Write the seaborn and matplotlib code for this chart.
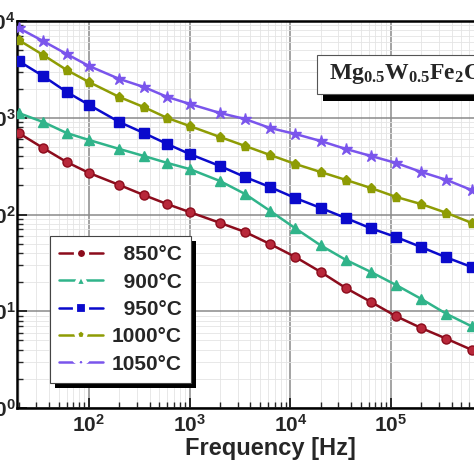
import numpy as np
import pandas as pd
import seaborn as sns
import matplotlib.pyplot as plt
from matplotlib.lines import Line2D
from matplotlib.patches import Rectangle
from matplotlib.ticker import LogLocator, FuncFormatter, NullFormatter

# values
freq = [20, 35, 60, 100, 200, 350, 600, 1000, 2000, 3550, 6300, 11200,
        20000, 35500, 63000, 112000, 200000, 355000, 630000]
eps_850 = [696, 487, 349, 269, 202, 159, 128, 106, 82, 66, 49.5, 36.4,
           25.5, 17.4, 12.5, 8.9, 6.7, 5.2, 4.0]
eps_900 = [1120, 904, 696, 589, 476, 403, 341, 295, 222, 163, 109, 72,
           48, 34, 25.5, 18.7, 13.4, 9.4, 7.0]
eps_950 = [3860, 2700, 1850, 1360, 904, 696, 535, 422, 317, 244, 192, 148,
           117, 92, 72, 58.5, 46, 36, 28.7]
eps_1000 = [6370, 4460, 3120, 2340, 1640, 1290, 994, 822, 633, 511, 412, 333,
            275, 228, 188, 152, 128, 104, 82]
eps_1050 = [8470, 6210, 4560, 3430, 2520, 2080, 1640, 1390, 1120, 970, 783, 680,
            575, 476, 403, 341, 275, 228, 179]
temps = ['850°C', '900°C', '950°C', '1000°C', '1050°C']
series = [eps_850, eps_900, eps_950, eps_1000, eps_1050]
colors = ['#8c0c1c', '#30b48a', '#0a0acc', '#8e9c04', '#7a55ec']
marks = ['o', '^', 's', 'p', '*']

df = pd.DataFrame({
    'freq': np.tile(freq, len(temps)),
    'eps': np.concatenate(series),
    'temp': np.repeat(temps, len(freq)),
})

sns.set_style('white')
plt.rcParams['font.family'] = ['Liberation Sans', 'DejaVu Sans']
plt.rcParams['font.weight'] = 'bold'
plt.rcParams['mathtext.fontset'] = 'custom'
plt.rcParams['mathtext.bf'] = 'Liberation Sans:bold'
plt.rcParams['mathtext.rm'] = 'Liberation Serif:bold'

fig = plt.figure(figsize=(4.74, 4.74), dpi=100)
W = 474.0
L, R, T, B = 17, 474, 21, 408
ax = fig.add_axes([L / W, 1 - B / W, (R - L) / W, (B - T) / W])
ax.set_xscale('log')
ax.set_yscale('log')

pal = dict(zip(temps, colors))
mk = dict(zip(temps, marks))
sns.lineplot(data=df, x='freq', y='eps', hue='temp', style='temp',
             hue_order=temps, style_order=temps, palette=pal, markers=mk,
             dashes=False, lw=1.8, ms=6.5, legend=False, ax=ax, zorder=3)
for line in ax.get_lines():
    c = line.get_color()
    line.set_markeredgecolor(c)
    line.set_markeredgewidth(1.0)
    if c == colors[0]:
        line.set_markerfacecolor('#b8283a')
    if line.get_marker() == '*':
        line.set_markersize(9)

ax.set_xlim(19.3, 6.67e5)
ax.set_ylim(1, 1e4)

fmt = FuncFormatter(lambda v, p: r'$\mathbf{10^{%d}}$' % round(np.log10(v)))
for axis in (ax.xaxis, ax.yaxis):
    axis.set_major_locator(LogLocator(base=10, numticks=20))
    axis.set_minor_locator(LogLocator(base=10, subs=np.arange(2, 10), numticks=100))
    axis.set_major_formatter(fmt)
    axis.set_minor_formatter(NullFormatter())
ax.tick_params(which='major', direction='in', length=7, width=1.4, labelsize=15,
               bottom=True, left=True, pad=4)
ax.tick_params(which='minor', direction='in', length=4, width=1.0,
               bottom=True, left=True)
ax.tick_params(axis='y', pad=1)

ax.grid(which='major', color='#8a8a8a', lw=1.1)
ax.grid(which='minor', color='#e4e4e4', lw=0.6)
ax.set_axisbelow(True)
for side in ('left', 'bottom', 'top'):
    ax.spines[side].set_linewidth(1.8)
    ax.spines[side].set_color('black')
ax.spines['right'].set_visible(False)

ax.set_xlabel('Frequency [Hz]', fontsize=17, fontweight='bold')
ax.xaxis.set_label_coords((270 - L) / (R - L), (B - 449) / (B - T))
ax.xaxis.label.set_va('center')
ax.set_ylabel('')

# legend with dropped black shadow
handles = [Line2D([], [], color=c, marker=m, lw=1.8, ms=8 if m != '*' else 10,
                  mfc=c, mec='white', mew=3)
           for c, m in zip(colors, marks)]
labels = [('\u2007' + t) if len(t) == 5 else t for t in temps]
leg = ax.legend(handles, labels, loc='upper left',
                bbox_to_anchor=((50 - L) / (R - L), (B - 236) / (B - T)),
                borderaxespad=0, frameon=True, fancybox=False, framealpha=1,
                edgecolor='#444444', prop={'size': 15, 'weight': 'bold'},
                handlelength=2.1, handletextpad=0.42, labelspacing=0.4,
                borderpad=0.45)
leg.get_frame().set_linewidth(0.8)
leg.set_zorder(6)
fig.canvas.draw()
bb = leg.get_window_extent()
ax.add_patch(Rectangle((bb.x0 + 5, bb.y0 - 5), bb.width, bb.height,
                       facecolor='black', edgecolor='none', transform=None,
                       clip_on=False, zorder=5))

# composition label box
def ax_xy(px, py):
    return (px - L) / (R - L), (B - py) / (B - T)

x0, y0 = ax_xy(323, 101)
x1, y1 = ax_xy(500, 94)
ax.add_patch(Rectangle((x0, y0), x1 - x0, y1 - y0, facecolor='black',
                       edgecolor='none', transform=ax.transAxes,
                       clip_on=False, zorder=7))
x0, y0 = ax_xy(317, 94)
x1, y1 = ax_xy(500, 55)
ax.add_patch(Rectangle((x0, y0), x1 - x0, y1 - y0, facecolor='white',
                       edgecolor='#555555', lw=0.8, transform=ax.transAxes,
                       clip_on=False, zorder=8))
tx, ty = ax_xy(329, 74)
ax.text(tx, ty, r'$\mathrm{Mg_{0.5}W_{0.5}Fe_{2}O_{4}}$', transform=ax.transAxes,
        fontsize=17, ha='left', va='center', zorder=9, clip_on=False)

fig.savefig('out.png', dpi=100)
